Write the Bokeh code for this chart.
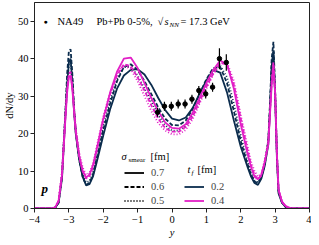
from bokeh.plotting import figure
from bokeh.models import Range1d, Label, Legend, LegendItem, FixedTicker
from bokeh.embed import file_html
from bokeh.resources import INLINE

# ---------------- data ----------------
rapidity = [-4.0, -3.5, -3.4, -3.3, -3.2, -3.1, -3.05, -3.0, -2.95, -2.9, -2.85, -2.8,
            -2.7, -2.6, -2.5, -2.4, -2.3, -2.2, -2.0, -1.8, -1.6, -1.4, -1.2, -1.0,
            -0.8, -0.6, -0.4, -0.2, 0.0, 0.2, 0.4, 0.6, 0.8, 1.0, 1.2, 1.4, 1.6, 1.8,
            2.0, 2.2, 2.3, 2.4, 2.5, 2.6, 2.7, 2.8, 2.85, 2.9, 2.95, 3.0, 3.05, 3.1,
            3.2, 3.3, 3.4, 3.5, 4.0]

# tf = 0.2 fm (navy)
tf02_s07 = [0, 0, 0.2, 1.5, 8, 25, 33, 39, 40, 34, 26, 20, 13, 8.5, 6.2, 6.5, 8.5, 12,
            19.5, 26.5, 32, 35.5, 37, 37.2, 35.8, 33, 29.5, 26.3, 24, 23.5, 24.3, 26.8,
            30.6, 34.2, 37, 36.3, 31, 23.5, 16.5, 11, 8.5, 6.8, 6.3, 8, 11.5, 17, 26, 38,
            42, 30, 14, 4, 1.5, 0.5, 0.1, 0, 0]
tf02_s06 = [0, 0, 0.2, 1.6, 8.5, 26, 36, 42, 42.5, 36, 27, 20.5, 13, 8.5, 6.3, 6.8, 9, 13,
            21, 28, 34, 37.8, 38.5, 37, 34, 30.5, 27, 24, 22.3, 22.2, 23.5, 26.5, 30.5,
            34.5, 37.5, 37.8, 33.5, 26, 18, 11.8, 9, 7.2, 6.8, 8.3, 12, 18, 28, 40, 44.5,
            32, 15, 4.5, 1.6, 0.5, 0.1, 0, 0]
tf02_s05 = [0, 0, 0.2, 1.7, 9, 26, 34, 38.5, 39, 34, 26.5, 20.5, 13.5, 9, 7, 7.3, 9.5, 13.5,
            22, 29, 34.5, 37.8, 37.8, 35.5, 32, 28.5, 25, 22.3, 20.8, 20.8, 22, 25, 29, 33,
            36.5, 38.2, 35, 28, 19.5, 12.5, 9.5, 7.5, 7, 8.5, 12, 18, 27, 38, 42, 31, 15,
            4.5, 1.6, 0.5, 0.1, 0, 0]
# tf = 0.4 fm (magenta)
tf04_s07 = [0, 0, 0.3, 2, 9, 24, 31, 35, 35.5, 32, 26, 20.5, 14, 10, 8.3, 9, 11.5, 15.5,
            24, 31, 36.5, 40, 40.3, 37.5, 33.5, 29.5, 26, 23, 21.5, 21.3, 22.5, 25.5, 29.5,
            33.5, 37, 39.5, 38.5, 32, 22.5, 14.5, 11, 8.5, 7.8, 9, 12.5, 17, 25, 33, 38,
            31, 15, 5, 1.8, 0.7, 0.2, 0, 0]
tf04_s06 = [0, 0, 0.3, 2, 9, 25, 32, 36, 36.5, 32.5, 26.5, 21, 14, 10, 8, 8.7, 11, 15,
            23.5, 30.5, 35.5, 38.5, 38, 35, 31.5, 27.5, 24, 21.5, 20.5, 20.5, 21.8, 24.5,
            28.5, 32.5, 36, 38.8, 38.5, 33, 24, 15.5, 11.5, 9, 7.8, 8.8, 12.5, 17.5, 26,
            34, 39, 31, 15, 5, 1.8, 0.7, 0.2, 0, 0]
tf04_s05 = [0, 0, 0.3, 2.2, 10, 25, 32, 35.5, 36, 32.5, 27, 21.5, 15, 11, 9, 9.5, 12, 16,
            24.5, 31, 36, 38.2, 37.2, 34, 30, 26, 22.8, 20.8, 19.8, 19.8, 21, 23.8, 28,
            32, 35.8, 38.8, 39, 34, 25, 16.5, 12.5, 10, 8.5, 9.3, 13, 18, 26, 33.5, 38.5,
            31, 15, 5, 1.8, 0.7, 0.2, 0, 0]

# NA49 data
na49_y = [-0.42, -0.22, -0.02, 0.18, 0.38, 0.58, 0.78, 0.98, 1.18, 1.38, 1.58]
na49_dndy = [25.7, 27.3, 27.3, 27.9, 27.9, 29.2, 31.5, 30.6, 32.4, 40.0, 39.0]
na49_err = [1.2, 1.2, 1.2, 1.2, 1.2, 1.2, 1.2, 1.2, 1.2, 2.8, 2.2]

x_ticks = [-4, -3, -2, -1, 0, 1, 2, 3, 4]
x_tick_labels = ["\u22124", "\u22123", "\u22122", "\u22121", "0", "1", "2", "3", "4"]
y_ticks = [0, 10, 20, 30, 40, 50]

sigma_labels = ["0.7", "0.6", "0.5"]
tf_labels = ["0.2", "0.4"]

# ---------------- style ----------------
FONT = "Liberation Serif"
NAVY = "#0b2c4d"
MAGENTA = "#e21fc6"
DASHES = ["solid", "4 2", "1 2"]
LW = 1.8
NAN = [float("nan")]

p = figure(frame_width=275, frame_height=206, output_backend="svg", toolbar_location=None,
           x_range=Range1d(-4, 4), y_range=Range1d(0, 55),
           min_border_left=27, min_border_right=2, min_border_top=2, min_border_bottom=0)
p.xgrid.visible = False
p.ygrid.visible = False
p.outline_line_color = "#222222"
p.outline_line_width = 1
p.background_fill_color = "white"

for ax in (p.xaxis[0], p.yaxis[0]):
    ax.major_label_text_font = FONT
    ax.major_label_text_font_size = "10.5px"
    ax.major_label_text_color = "black"
    ax.axis_label_text_font = FONT
    ax.axis_label_text_font_size = "10.5px"
    ax.axis_label_text_color = "black"
    ax.minor_tick_line_color = None
    ax.major_tick_out = 4
    ax.major_tick_in = 0
    ax.major_label_standoff = 2
    ax.axis_label_standoff = 0
    ax.axis_line_color = "#222222"
    ax.major_tick_line_color = "#222222"

p.xaxis.major_label_standoff = 3
p.xaxis.axis_label_standoff = 1
p.xaxis.ticker = FixedTicker(ticks=x_ticks)
p.xaxis.major_label_overrides = {t: l for t, l in zip(x_ticks, x_tick_labels)}
p.yaxis.ticker = FixedTicker(ticks=y_ticks)
p.xaxis.axis_label = "y"
p.xaxis.axis_label_text_font_style = "italic"
p.yaxis.axis_label = "dN/dy"
p.yaxis.axis_label_text_font_style = "normal"

curves = [(tf02_s07, NAVY, DASHES[0]), (tf02_s06, NAVY, DASHES[1]), (tf02_s05, NAVY, DASHES[2]),
          (tf04_s07, MAGENTA, DASHES[0]), (tf04_s06, MAGENTA, DASHES[1]), (tf04_s05, MAGENTA, DASHES[2])]
for vals, col, dash in curves:
    p.line(rapidity, vals, line_color=col, line_width=LW, line_dash=dash)

lo = [v - e for v, e in zip(na49_dndy, na49_err)]
hi = [v + e for v, e in zip(na49_dndy, na49_err)]
p.segment(x0=na49_y, y0=lo, x1=na49_y, y1=hi, line_color="black", line_width=1.2)
p.scatter(na49_y, na49_dndy, size=4.5, color="black")

# legends
def mk_legend(items, loc):
    lg = Legend(items=items, location=loc, orientation="vertical",
                background_fill_alpha=0, border_line_alpha=0, padding=0, margin=0,
                spacing=1, glyph_width=20, glyph_height=13, label_height=13,
                label_standoff=7, label_text_font=FONT, label_text_font_size="10.5px",
                label_text_baseline="middle")
    p.add_layout(lg)
    return lg

sig_items = []
for lbl, dash in zip(sigma_labels, DASHES):
    r = p.line(NAN, NAN, line_color="black", line_width=LW, line_dash=dash)
    sig_items.append(LegendItem(label=lbl, renderers=[r], index=0))
mk_legend(sig_items, (90, 1))

tf_items = []
for lbl, col in zip(tf_labels, [NAVY, MAGENTA]):
    r = p.line(NAN, NAN, line_color=col, line_width=LW)
    tf_items.append(LegendItem(label=lbl, renderers=[r], index=0))
mk_legend(tf_items, (150, 1))

def lab(x, y, t, size="10.5px", style="normal"):
    p.add_layout(Label(x=x, y=y, x_units="screen", y_units="screen", text=t,
                       text_font=FONT, text_font_size=size, text_font_style=style,
                       text_baseline="middle", text_color="black"))

lab(9, 187, "\u25cf", size="7px")
lab(23, 187, "NA49")
lab(62, 187, "Pb+Pb 0-5%,")
lab(123, 187, "\u221a")
lab(130, 187, "s", style="italic")
lab(135, 184, "NN", size="7px", style="italic")
lab(146, 187, "= 17.3 GeV")

lab(87, 52, "\u03c3", style="italic")
lab(94, 49, "smear", size="7px")
lab(116, 52, "[fm]")

lab(153, 39, "t", style="italic")
lab(157, 36, "f", size="7px", style="italic")
lab(163, 39, "[fm]")

lab(7, 20, "p", size="13px", style="bold italic")

open("out.html", "w").write(file_html(p, INLINE))
